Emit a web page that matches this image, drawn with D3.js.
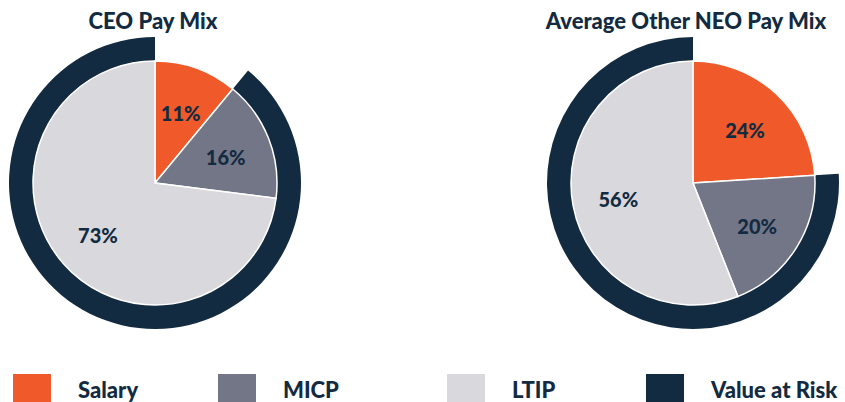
<!DOCTYPE html>
<html>
<head>
<meta charset="utf-8">
<script src="https://cdn.jsdelivr.net/npm/d3@7"></script>
<style>
  body { margin: 0; background: #fff; }
  text { font-family: Lato, "Open Sans", sans-serif; font-weight: 900; fill: #132b41; }
</style>
</head>
<body>
<div id="chart"></div>
<script>
(function () {
  'use strict';

  const categories = ['Salary', 'MICP', 'LTIP'];
  const ceoValues = [11, 16, 73];
  const neoValues = [24, 20, 56];
  const legendLabels = ['Salary', 'MICP', 'LTIP', 'Value at Risk'];
  const titles = ['CEO Pay Mix', 'Average Other NEO Pay Mix'];

  const colors = { Salary: '#f0592a', MICP: '#737687', LTIP: '#d8d8dd', 'Value at Risk': '#132b41' };

  const W = 845, H = 402;
  const svg = d3.select('#chart').append('svg').attr('width', W).attr('height', H);

  const rPie = 122, rIn = 122, rOut = 146;
  const pie = d3.pie().sort(null).value((d) => d.value);
  const arc = d3.arc().innerRadius(0).outerRadius(rPie);
  const labelArc = d3.arc().innerRadius(76).outerRadius(76);
  const ring = d3.arc().innerRadius(rIn).outerRadius(rOut);

  function drawPie(cx, cy, values, title, titleX) {
    const g = svg.append('g').attr('transform', `translate(${cx},${cy})`);
    const data = pie(categories.map((c, i) => ({ key: c, value: values[i] })));

    // value at risk ring: everything except salary
    g.append('path')
      .attr('d', ring({ startAngle: data[0].endAngle, endAngle: 2 * Math.PI }))
      .attr('fill', colors['Value at Risk']);

    g.selectAll('path.slice')
      .data(data)
      .enter().append('path')
      .attr('class', 'slice')
      .attr('d', arc)
      .attr('fill', (d) => colors[d.data.key])
      .attr('stroke', '#fff')
      .attr('stroke-width', 1.5);

    g.selectAll('text.lbl')
      .data(data)
      .enter().append('text')
      .attr('class', 'lbl')
      .attr('transform', (d) => `translate(${labelArc.centroid(d)})`)
      .attr('text-anchor', 'middle')
      .attr('dy', '0.5em')
      .attr('font-size', 20)
      .text((d) => d.data.value + '%');

    svg.append('text')
      .attr('x', titleX).attr('y', 29)
      .attr('text-anchor', 'middle')
      .attr('font-size', 22)
      .text(title);
  }

  drawPie(155, 183, ceoValues, titles[0], 153);
  drawPie(693, 183, neoValues, titles[1], 686);

  const legendX = [13, 218, 447, 646];
  const lg = svg.append('g');
  legendLabels.forEach((name, i) => {
    lg.append('rect')
      .attr('x', legendX[i]).attr('y', 374)
      .attr('width', 38).attr('height', 38)
      .attr('fill', colors[name]);
    lg.append('text')
      .attr('x', legendX[i] + 65).attr('y', 398)
      .attr('font-size', 22)
      .text(name);
  });
})();
</script>
</body>
</html>
